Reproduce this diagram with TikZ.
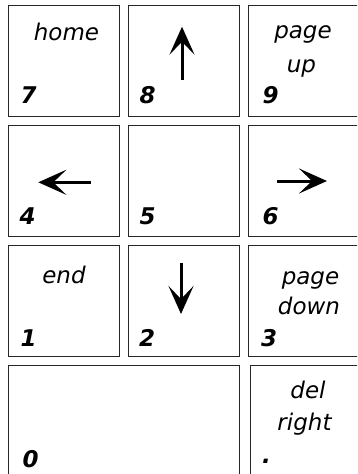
\documentclass[tikz,border=0pt]{standalone}
\usepackage{fontspec}
\setmainfont{DejaVu Sans}
\usetikzlibrary{arrows.meta}
\begin{document}
\begin{tikzpicture}[x=1pt,y=-1pt,
  keybox/.style={draw=black!85, line width=1.1pt, minimum width=111pt, minimum height=111pt, inner sep=0pt, outer sep=0pt, anchor=north west},
  lbl/.style={inner sep=0pt, anchor=base, font=\fontsize{23}{27}\selectfont\itshape},
  num/.style={inner sep=0pt, anchor=base west, font=\fontsize{23}{27}\selectfont\bfseries\itshape},
  arr/.style={line width=3pt, -{Stealth[length=28pt,width=25pt,inset=13pt]}}]
\useasboundingbox (0,0) rectangle (357,474);
\clip (0,0) rectangle (357,474);
% keys
\node[keybox] (k7) at (8.3,5.7) {};
\node[keybox] (k8) at (128.3,5.7) {};
\node[keybox] (k9) at (248.3,5.7) {};
\node[keybox] (k4) at (8.3,125.5) {};
\node[keybox] (k5) at (128.3,125.5) {};
\node[keybox] (k6) at (248.3,125.5) {};
\node[keybox] (k1) at (8.3,245.5) {};
\node[keybox] (k2) at (128.3,245.5) {};
\node[keybox] (k3) at (248.3,245.5) {};
\node[keybox, minimum width=231.5pt] (k0) at (8.3,365.5) {};
\node[keybox] (kd) at (250.5,365.5) {};
% labels
\node[lbl] (t7) at (66.5,40) {home};
\node[lbl] (t9a) at (303,38) {page};
\node[lbl] (t9b) at (301.5,72) {up};
\node[lbl] (t1) at (64,283) {end};
\node[lbl] (t3a) at (310.5,284) {page};
\node[lbl] (t3b) at (309,314) {down};
\node[lbl] (tda) at (308,398.5) {del};
\node[lbl] (tdb) at (304.5,430) {right};
% numbers
\node[num] (n7) at (20.5,103) {7};
\node[num] (n8) at (139.5,103) {8};
\node[num] (n9) at (262.5,103) {9};
\node[num] (n4) at (19.5,224) {4};
\node[num] (n5) at (139.5,224) {5};
\node[num] (n6) at (262.5,224) {6};
\node[num] (n1) at (20.5,346) {1};
\node[num] (n2) at (139,346) {2};
\node[num] (n3) at (261,346) {3};
\node[num] (n0) at (22.5,467) {0};
\node[num] (nd) at (262,463.5) {.};
% arrows
\coordinate (u1) at (182,80);   \coordinate (u2) at (182,26.7);
\coordinate (l1) at (90.7,182.3); \coordinate (l2) at (38.3,182.3);
\coordinate (r1) at (277,181);  \coordinate (r2) at (327,181);
\coordinate (d1) at (181,263);  \coordinate (d2) at (181,314);
\draw[arr] (u1) -- (u2);
\draw[arr] (l1) -- (l2);
\draw[arr] (r1) -- (r2);
\draw[arr] (d1) -- (d2);
\end{tikzpicture}
\end{document}
